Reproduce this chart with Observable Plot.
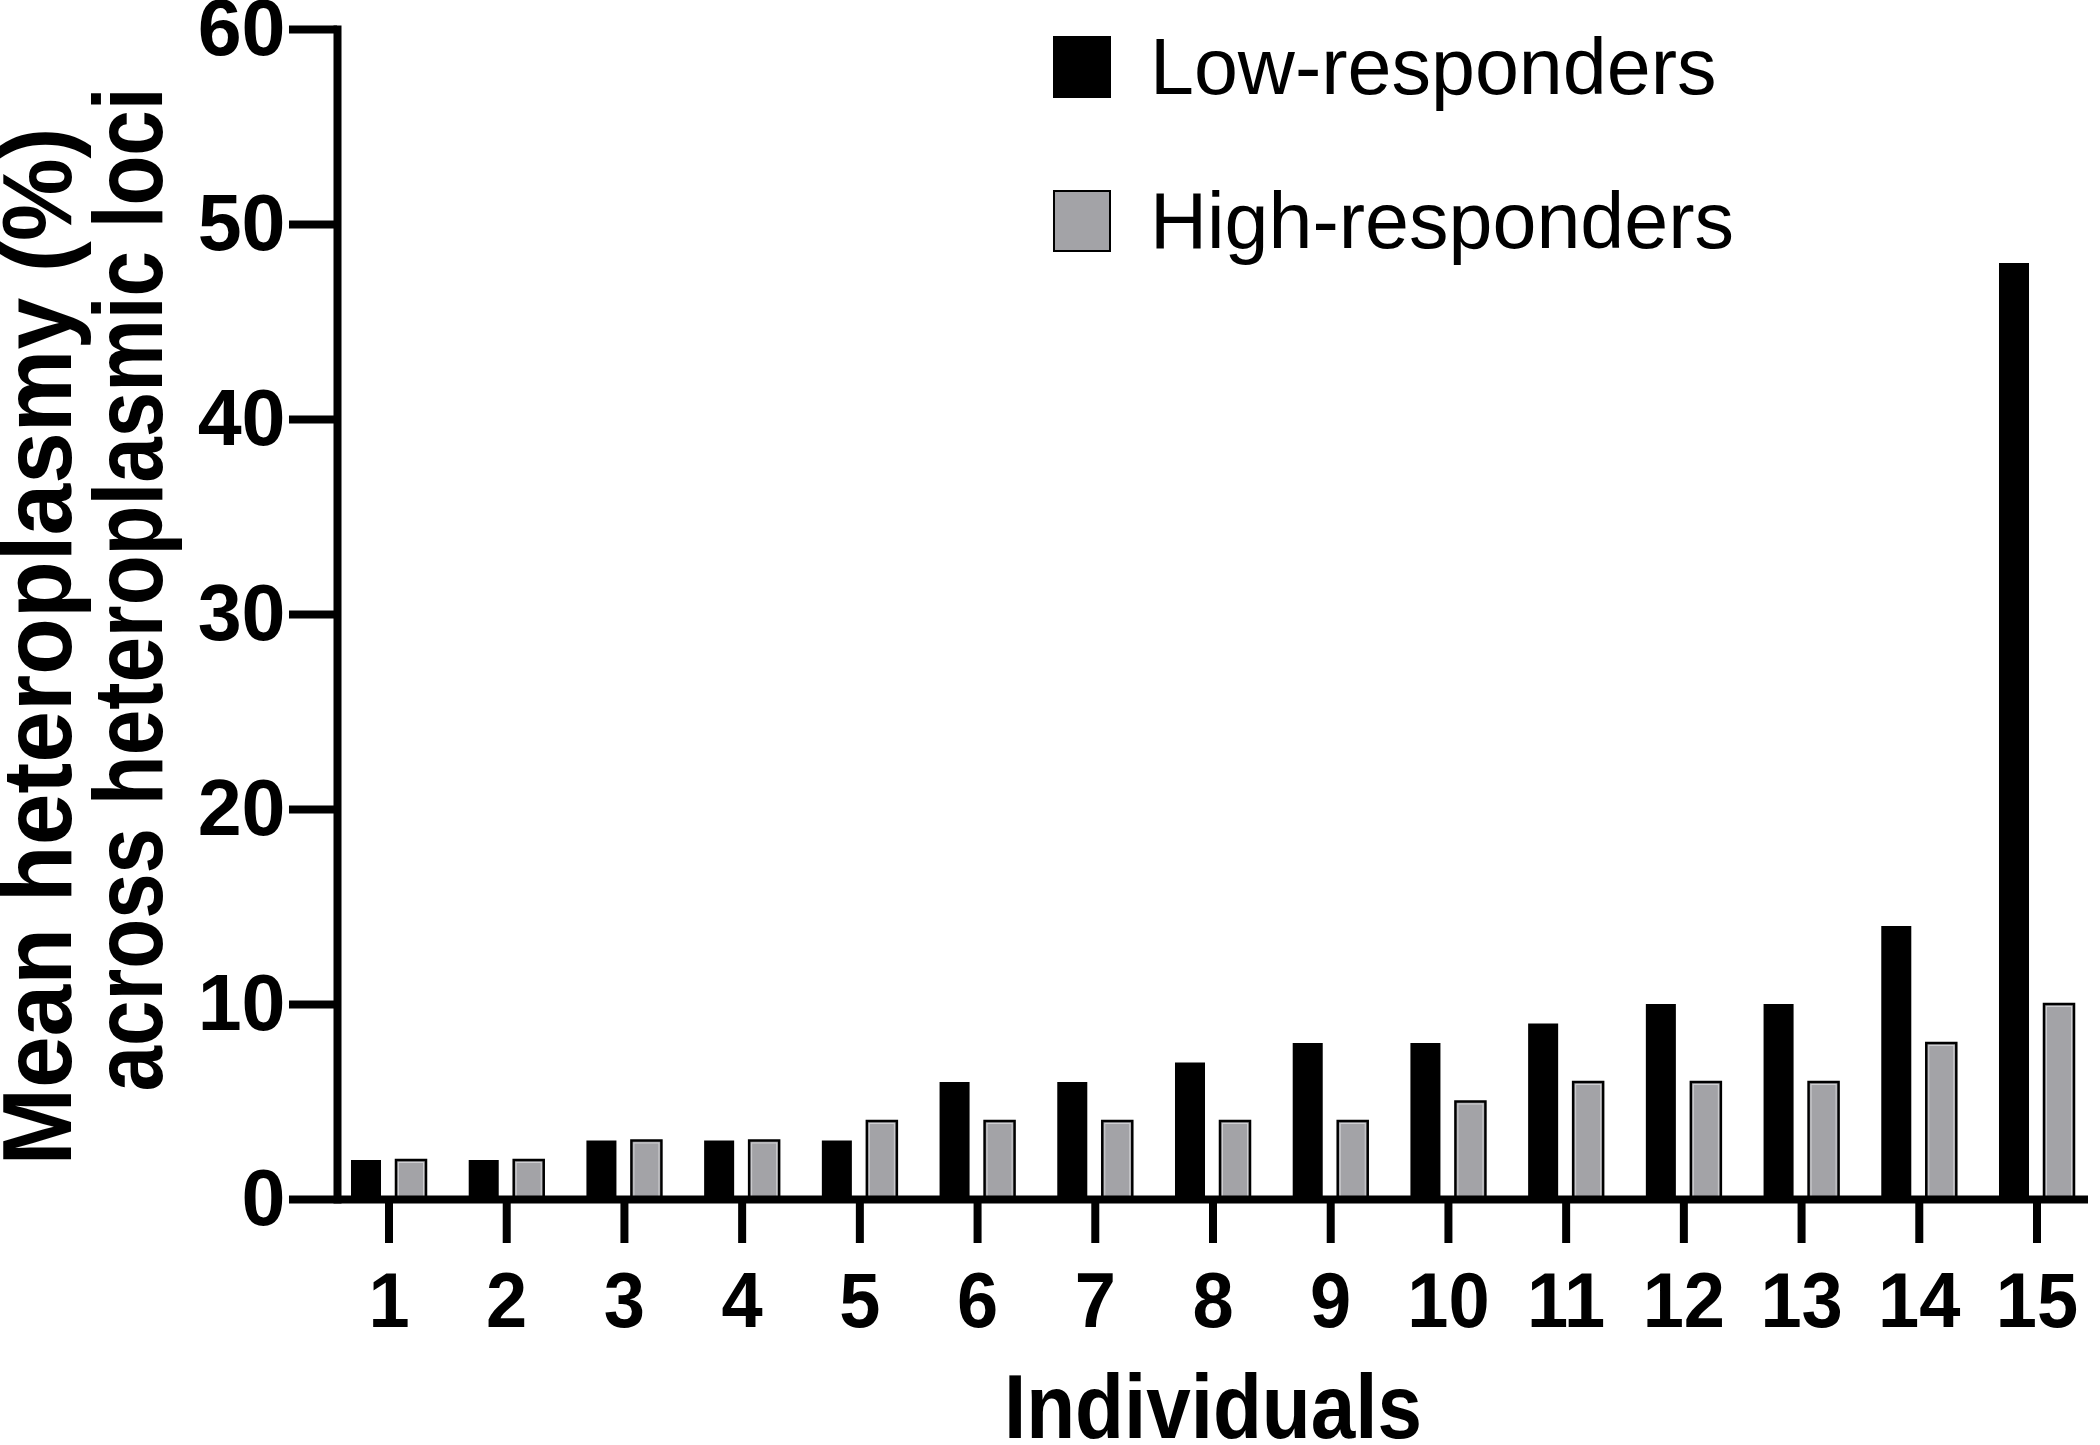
<!DOCTYPE html>
<html>
<head>
<meta charset="utf-8">
<script src="https://cdn.jsdelivr.net/npm/d3@7"></script>
<script src="https://cdn.jsdelivr.net/npm/@observablehq/plot@0.6"></script>
<style>
  html, body { margin: 0; padding: 0; background: #fff; }
  #wrap { position: relative; width: 2100px; height: 1445px; overflow: hidden; background: #fff; }
  .leg-box { position: absolute; box-sizing: border-box; }
  .leg-text { position: absolute; font-family: "Liberation Sans", Arial, sans-serif; font-size: 79px; line-height: 79px; color: #000; white-space: nowrap; }
</style>
</head>
<body>
<div id="wrap"></div>
<script>
// ---- data ----
const individuals = ["1","2","3","4","5","6","7","8","9","10","11","12","13","14","15"];
const lowResponders  = [2, 2, 3, 3, 3, 6, 6, 7, 8, 8, 9, 10, 10, 14, 48];
const highResponders = [2, 2, 3, 3, 4, 4, 4, 4, 4, 5, 6, 6, 6, 8, 10];
const yTicks = [0, 10, 20, 30, 40, 50, 60];
const seriesNames = ["Low-responders", "High-responders"];
const yTitle1 = "Mean heteroplasmy (%)";
const yTitle2 = "across heteroplasmic loci";
const xTitle = "Individuals";

const data = individuals.map((d, i) => ({ind: d, low: lowResponders[i], high: highResponders[i]}));

const black = "#000000";
const grey = "#a3a3a7";

const chart = Plot.plot({
  width: 2100,
  height: 1445,
  marginLeft: 337,
  marginRight: 12,
  marginTop: 29,
  marginBottom: 246,
  style: {
    fontFamily: "'Liberation Sans', Arial, sans-serif",
    fontSize: "78px",
    fontWeight: "bold",
    color: "#000",
    background: "#fff",
    overflow: "visible"
  },
  x: {type: "band", domain: individuals, paddingInner: 0.745, paddingOuter: 0.31, align: 0.5, round: false},
  y: {domain: [0, 60]},
  marks: [
    Plot.barY(data, {x: "ind", y: "low", fill: black, dx: -22.5}),
    Plot.barY(data, {x: "ind", y: "high", fill: grey, stroke: black, strokeWidth: 2.5, dx: 22.5}),
    Plot.barY(data, {x: "ind", y: "high", fill: "none", stroke: "#cfcfd2", strokeWidth: 1, dx: 22.5, inset: 2.5}),
    Plot.ruleY([0], {strokeWidth: 8, stroke: black}),
    Plot.frame({anchor: "left", strokeWidth: 8, stroke: black}),
    Plot.axisY({ticks: yTicks, tickSize: 48, tickPadding: 4, strokeWidth: 8, label: null, fontSize: 79}),
    Plot.axisX({tickSize: 44, tickPadding: 28, strokeWidth: 8, label: null}),
    Plot.text([yTitle1], {frameAnchor: "left", textAnchor: "middle", lineAnchor: "middle", rotate: -90, dx: -298, dy: 32, fontSize: 98, fontWeight: "bold"}),
    Plot.text([yTitle2], {frameAnchor: "left", textAnchor: "middle", lineAnchor: "middle", rotate: -90, dx: -207, dy: -25, fontSize: 98, fontWeight: "bold"}),
    Plot.text([xTitle], {frameAnchor: "bottom", textAnchor: "middle", lineAnchor: "middle", dy: 209, fontSize: 91, fontWeight: "bold"})
  ]
});

const wrap = document.getElementById("wrap");
wrap.appendChild(chart);

// horizontal condensing of the bold lettering, as in the reference
function fitLength(sel, lengthFor) {
  chart.querySelectorAll(sel).forEach((t, i) => {
    const len = t.getComputedTextLength();
    if (len > 0) {
      t.setAttribute("textLength", lengthFor(len, t, i).toFixed(1));
      t.setAttribute("lengthAdjust", "spacingAndGlyphs");
    }
  });
}
fitLength('g[aria-label="x-axis tick label"] text', len => len * 0.95);
const textLengths = {[yTitle1]: 1038, [yTitle2]: 1004, [xTitle]: 418};
fitLength('g[aria-label="text"] text', (len, t) => textLengths[t.textContent] || len);

// legend (HTML overlay)
const legendColors = [black, grey];
const legendTops = [36, 190];
seriesNames.forEach((name, i) => {
  const box = document.createElement("div");
  box.className = "leg-box";
  box.style.left = "1053px";
  box.style.top = legendTops[i] + "px";
  box.style.width = "58px";
  box.style.height = "62px";
  box.style.background = legendColors[i];
  box.style.border = "2px solid #000";
  wrap.appendChild(box);
  const t = document.createElement("div");
  t.className = "leg-text";
  t.style.left = "1150px";
  t.style.top = (legendTops[i] - 9) + "px";
  t.textContent = name;
  wrap.appendChild(t);
});
</script>
</body>
</html>
